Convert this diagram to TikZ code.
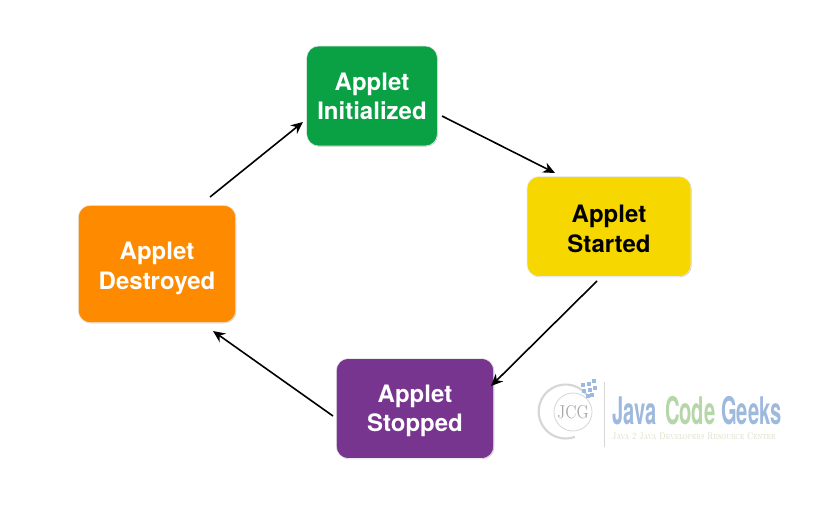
\documentclass[tikz,border=0pt]{standalone}
\usepackage{fontspec}
\newfontfamily\heros{TeX Gyre Heros}
\usetikzlibrary{arrows.meta,shadows}
\newcommand{\dn}[2]{\raisebox{-#1}[\height][\depth]{#2}}
\definecolor{cgreen}{HTML}{0AA145}
\definecolor{cyellow}{HTML}{F6D800}
\definecolor{cpurple}{HTML}{77358F}
\definecolor{corange}{HTML}{FE8A00}
\definecolor{jcgblue}{HTML}{9DB9DE}
\definecolor{jcggreen}{HTML}{B4D6A8}
\definecolor{jcggray}{HTML}{D6D6D6}
\definecolor{jcgtan}{HTML}{D8DCC0}
\tikzset{
  px/.style={x=0.75pt,y=-0.75pt},
  state/.style={rounded corners=9pt,draw=black!8,line width=0.4pt,align=center,font=\heros\bfseries\fontsize{18}{21.7}\selectfont,inner sep=0pt,text=white,drop shadow={shadow xshift=0.5pt,shadow yshift=-0.5pt,opacity=0.2,fill=black}},
  flow/.style={-{Stealth[length=9pt,width=8pt]},line width=1.2pt,black},
  logoword/.style={anchor=base west,inner sep=0pt,font=\heros\bfseries\fontsize{28.5}{28.5}\selectfont,xscale=0.53}
}
\begin{document}
\begin{tikzpicture}[px]
\useasboundingbox (0,0) rectangle (820,507);
\fill[white] (0,0) rectangle (820,507);
\node[state,fill=cgreen,minimum width=98pt,minimum height=75pt] (init) at (372,96) {Applet\\Initialized};
\node[state,fill=cyellow,text=black,minimum width=123pt,minimum height=75pt] (start) at (609,226.5) {\dn{1.5pt}{Applet}\\\dn{2.2pt}{Started}};
\node[state,fill=cpurple,minimum width=118pt,minimum height=75pt] (stop) at (415,408.5) {\dn{1.5pt}{Applet}\\\dn{1.5pt}{Stopped}};
\node[state,fill=corange,minimum width=118pt,minimum height=88pt] (dest) at (157,264) {\dn{3pt}{Applet}\\\dn{3.7pt}{Destroyed}};
\coordinate (a1) at (442,116);\coordinate (a2) at (555,173);
\coordinate (b1) at (597,281);\coordinate (b2) at (491,386);
\coordinate (c1) at (333,416);\coordinate (c2) at (213,331);
\coordinate (d1) at (210,197);\coordinate (d2) at (303,122);
\draw[flow] (a1) -- (a2);
\draw[flow] (b1) -- (b2);
\draw[flow] (c1) -- (c2);
\draw[flow] (d1) -- (d2);
% logo
\draw[jcggray,line width=1.6pt] (589,398) arc[start angle=-30,end angle=-290,radius=27];
\draw[jcggray,line width=0.6pt] (573,412) circle[radius=19];
\node[inner sep=0pt,text=black!35,font=\fontsize{14}{14}\selectfont,xscale=0.85] (logo) at (573,412) {JCG};
\foreach \i/\x/\y in {a/583/385,b/589/384,c/594/381,d/584/391,e/590/390,f/595/388,g/588/396,h/592/395}
  \fill[jcgblue] (\x-1.8,\y-1.8) rectangle (\x+1.8,\y+1.8);
\draw[jcggray,line width=0.6pt] (604,382) -- (604,447);
\node[logoword,text=jcgblue] (w1) at (612,424) {Java};
\node[logoword,text=jcggreen] (w2) at (665,424) {Code};
\node[logoword,text=jcgblue] (w3) at (721,424) {Geeks};
\node[anchor=base west,inner sep=0pt,text=jcgtan,font=\scshape\fontsize{7.2}{7.2}\selectfont,xscale=0.8] (jcgs) at (612,439) {Java 2 Java Developers Resource Center};
\end{tikzpicture}
\end{document}
